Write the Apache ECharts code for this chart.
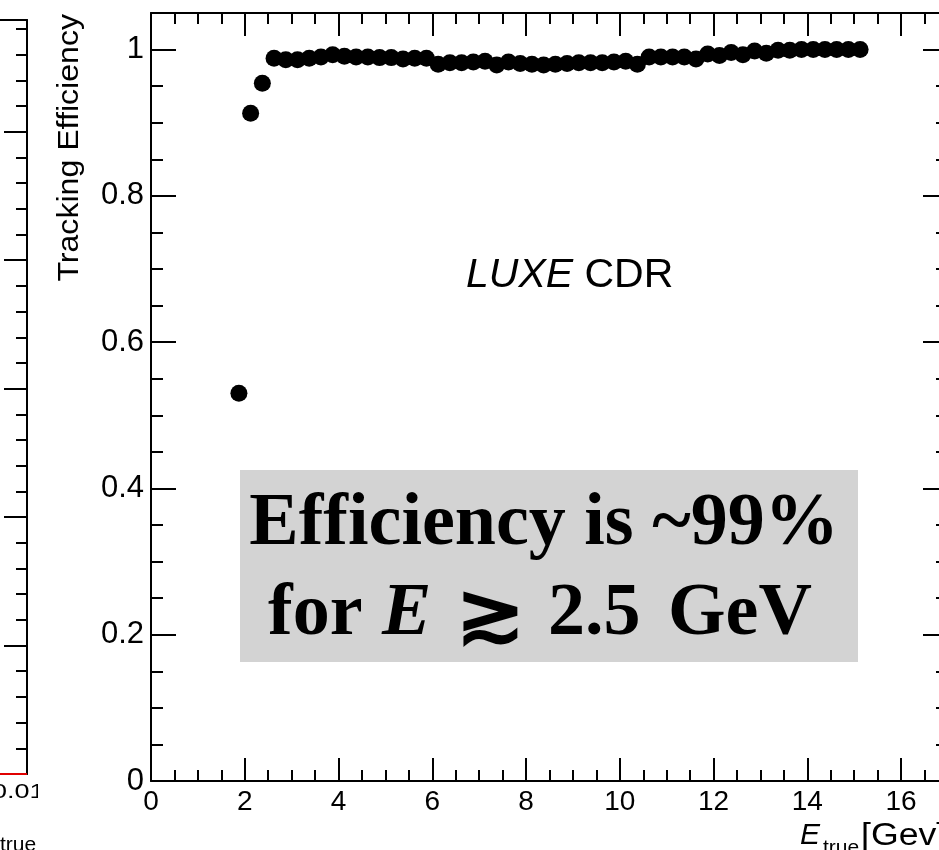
<!DOCTYPE html>
<html>
<head>
<meta charset="utf-8">
<script src="https://cdn.jsdelivr.net/npm/echarts@6/dist/echarts.min.js"></script>
<style>
  html, body { margin: 0; padding: 0; background: #fff; overflow: hidden; }
  #main { position: absolute; left: 0; top: 0; width: 960px; height: 850px; }
  #side { position: absolute; left: 0; top: 0; width: 38px; height: 850px; overflow: hidden; background: #fff; }
  #sideInner { position: absolute; left: -362px; top: 0; width: 400px; height: 850px; }
</style>
</head>
<body>
<div id="main"></div>
<div id="side"><div id="sideInner"></div></div>
<script>
// Bin centres of the true energy [GeV]
const energy = [
  1.875, 2.125, 2.375, 2.625, 2.875, 3.125, 3.375, 3.625, 3.875, 4.125,
  4.375, 4.625, 4.875, 5.125, 5.375, 5.625, 5.875, 6.125, 6.375, 6.625,
  6.875, 7.125, 7.375, 7.625, 7.875, 8.125, 8.375, 8.625, 8.875, 9.125,
  9.375, 9.625, 9.875, 10.125, 10.375, 10.625, 10.875, 11.125, 11.375, 11.625,
  11.875, 12.125, 12.375, 12.625, 12.875, 13.125, 13.375, 13.625, 13.875, 14.125,
  14.375, 14.625, 14.875, 15.125
];
// Tracking efficiency per energy bin
const efficiency = [
  0.530, 0.913, 0.954, 0.988, 0.986, 0.986, 0.988, 0.990, 0.993, 0.991,
  0.990, 0.990, 0.989, 0.989, 0.987, 0.988, 0.988, 0.980, 0.982, 0.982,
  0.983, 0.984, 0.979, 0.983, 0.981, 0.980, 0.979, 0.980, 0.981, 0.982,
  0.982, 0.982, 0.983, 0.984, 0.980, 0.990, 0.990, 0.990, 0.990, 0.987,
  0.994, 0.992, 0.996, 0.993, 0.998, 0.995, 0.999, 0.999, 1.000, 1.000,
  1.000, 1.000, 1.000, 1.000
];
// Axis ranges and labelled ticks
const xRange = [0, 17];
const yRange = [0, 1.05];
const xLabels = [0, 2, 4, 6, 8, 10, 12, 14, 16];
const yLabels = [0, 0.2, 0.4, 0.6, 0.8, 1];

// Neighbouring residual panel (only its right edge is in view)
const sideX = [0.008, 0.009, 0.01];
const sideCounts = [0, 0, 0];

const SANS = '"Liberation Sans", Arial, Helvetica, sans-serif';
const SERIF = '"Liberation Serif", "Times New Roman", serif';

function hasLabel(list, v) {
  return list.some(t => Math.abs(t - v) < 1e-9);
}

const frame = { show: true, onZero: false, lineStyle: { color: '#000', width: 2 } };

const xCommon = {
  type: 'value', min: xRange[0], max: xRange[1], interval: 2,
  axisLine: frame,
  axisTick: { show: true, inside: true, length: 23, lineStyle: { color: '#000', width: 2 } },
  minorTick: { show: true, splitNumber: 4, length: 11, lineStyle: { color: '#000', width: 2 } },
  splitLine: { show: false }
};
const yCommon = {
  type: 'value', min: yRange[0], max: yRange[1], interval: 0.2,
  axisLine: frame,
  axisTick: { show: true, inside: true, length: 25, lineStyle: { color: '#000', width: 2 } },
  minorTick: { show: true, splitNumber: 4, length: 12, lineStyle: { color: '#000', width: 2 } },
  splitLine: { show: false }
};

const boxFont = { fontSize: 74, fontWeight: 'bold', fontFamily: SERIF, fill: '#000', verticalAlign: 'middle' };

const main = echarts.init(document.getElementById('main'), null, { renderer: 'canvas' });
main.setOption({
  animation: false,
  backgroundColor: '#fff',
  grid: { left: 151, right: 12, top: 13, bottom: 69, outerBoundsMode: 'none' },
  xAxis: [
    Object.assign({}, xCommon, {
      position: 'bottom',
      axisLabel: {
        show: true, margin: 7, color: '#000', fontSize: 28, fontFamily: SANS,
        formatter: v => hasLabel(xLabels, v) ? String(v) : ''
      }
    }),
    Object.assign({}, xCommon, { position: 'top', axisLabel: { show: false } })
  ],
  yAxis: [
    Object.assign({}, yCommon, {
      position: 'left',
      axisLabel: {
        show: true, margin: 7, color: '#000', fontSize: 31, fontFamily: SANS,
        formatter: v => hasLabel(yLabels, v) ? String(+v.toFixed(1)) : ''
      }
    }),
    Object.assign({}, yCommon, { position: 'right', axisLabel: { show: false } })
  ],
  series: [{
    type: 'scatter',
    xAxisIndex: 0, yAxisIndex: 0,
    symbol: 'circle', symbolSize: 17,
    itemStyle: { color: '#000', opacity: 1 },
    data: energy.map((e, i) => [e, efficiency[i]]),
    z: 5
  }],
  graphic: [
    { // y-axis title
      type: 'text', x: 70, y: 14, rotation: Math.PI / 2, scaleX: 1.07,
      style: { text: 'Tracking Efficiency', fontSize: 30, fontFamily: SANS, fill: '#000',
               align: 'right', verticalAlign: 'middle' }
    },
    { // x-axis title
      type: 'text', x: 800, y: 836,
      style: { text: 'E', fontSize: 30, fontStyle: 'italic', fontFamily: SANS, fill: '#000',
               align: 'left', verticalAlign: 'middle' }
    },
    {
      type: 'text', x: 823, y: 848,
      style: { text: 'true', fontSize: 21, fontFamily: SANS, fill: '#000',
               align: 'left', verticalAlign: 'middle' }
    },
    {
      type: 'text', x: 861, y: 836, scaleX: 1.15,
      style: { text: '[Gev]', fontSize: 31, fontFamily: SANS, fill: '#000',
               align: 'left', verticalAlign: 'middle' }
    },
    { // experiment tag
      type: 'text', x: 466, y: 276,
      style: {
        text: '{i|LUXE}{n| CDR}', verticalAlign: 'middle', align: 'left',
        rich: {
          i: { fontSize: 41, fontStyle: 'italic', fontFamily: SANS, fill: '#000' },
          n: { fontSize: 41, fontFamily: SANS, fill: '#000' }
        }
      }
    },
    { // annotation box
      type: 'rect', shape: { x: 240, y: 470, width: 618, height: 192 },
      style: { fill: '#d3d3d3' }, z: 1
    },
    {
      type: 'text', x: 544, y: 525, z: 2,
      style: Object.assign({ text: 'Efficiency is ~99%', align: 'center' }, boxFont)
    },
    {
      type: 'text', x: 268, y: 615, z: 2,
      style: Object.assign({ text: 'for', align: 'left' }, boxFont)
    },
    {
      type: 'text', x: 382, y: 615, z: 2,
      style: Object.assign({ text: 'E', align: 'left' }, boxFont, { fontStyle: 'italic' })
    },
    {
      type: 'text', x: 456, y: 620, z: 2,
      style: Object.assign({ text: '≳', align: 'left' }, boxFont,
                           { fontSize: 82, fontFamily: '"DejaVu Serif", serif' })
    },
    {
      type: 'text', x: 548, y: 615, z: 2,
      style: Object.assign({ text: '2.5', align: 'left' }, boxFont)
    },
    {
      type: 'text', x: 668, y: 615, z: 2,
      style: Object.assign({ text: 'GeV', align: 'left' }, boxFont)
    }
  ]
});

// Residual panel on the left, mostly outside the view
const side = echarts.init(document.getElementById('sideInner'), null, { renderer: 'canvas' });
side.setOption({
  animation: false,
  backgroundColor: '#fff',
  grid: { left: 60, right: 11, top: 20, bottom: 76, outerBoundsMode: 'none' },
  xAxis: [
    {
      type: 'value', min: -0.01, max: 0.01, interval: 0.01, position: 'bottom',
      axisLine: frame, axisTick: { show: false }, splitLine: { show: false },
      axisLabel: { show: false }
    },
    {
      type: 'value', min: -0.01, max: 0.01, position: 'top',
      axisLine: frame, axisTick: { show: false }, axisLabel: { show: false }, splitLine: { show: false }
    }
  ],
  yAxis: [{
    type: 'value', min: 0, max: 5.87, interval: 1, position: 'right',
    axisLine: frame,
    axisTick: { show: true, inside: true, length: 23, lineStyle: { color: '#000', width: 2 } },
    minorTick: { show: true, splitNumber: 5, length: 11, lineStyle: { color: '#000', width: 2 } },
    axisLabel: { show: false }, splitLine: { show: false }
  }],
  series: [{
    type: 'line', step: 'middle', symbol: 'none',
    lineStyle: { color: '#e00000', width: 2 },
    data: sideX.map((x, i) => [x, sideCounts[i]]),
    z: 5
  }],
  graphic: [
    { // end label of the residual axis
      type: 'text', x: 354, y: 792, scaleX: 1.35,
      style: { text: '0.01', fontSize: 20, fontFamily: SANS, fill: '#000',
               align: 'left', verticalAlign: 'middle' }
    },
    {
      type: 'text', x: 330, y: 836,
      style: { text: 'E', fontSize: 30, fontStyle: 'italic', fontFamily: SANS, fill: '#000',
               align: 'left', verticalAlign: 'middle' }
    },
    {
      type: 'text', x: 362, y: 845,
      style: { text: 'true', fontSize: 21, fontFamily: SANS, fill: '#000',
               align: 'left', verticalAlign: 'middle' }
    }
  ]
});
</script>
</body>
</html>
